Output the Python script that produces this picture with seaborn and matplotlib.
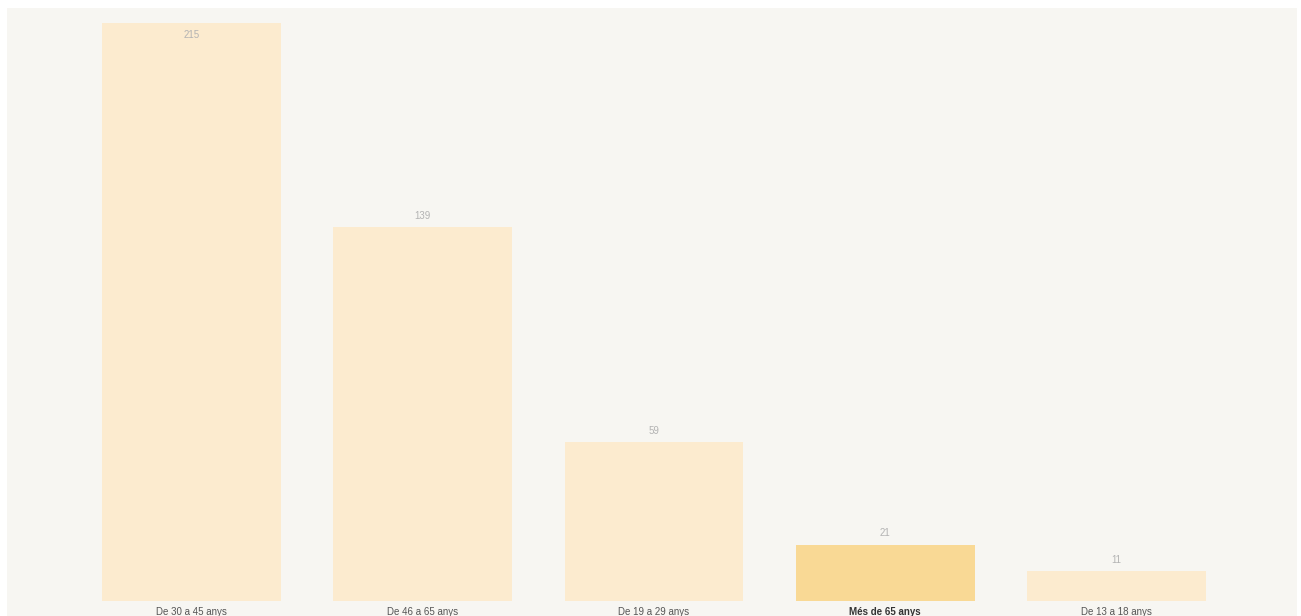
import pandas as pd
import matplotlib.pyplot as plt
import matplotlib.patches as mpatches
import seaborn as sb

# Data
groups = ['De 30 a 45 anys', 'De 46 a 65 anys', 'De 19 a 29 anys', 'Més de 65 anys', 'De 13 a 18 anys']
counts = [215, 139, 59, 21, 11]
highlight = 'Més de 65 anys'

df = pd.DataFrame({'group': groups, 'count': counts})
colors = {g: ('#f9d995' if g == highlight else '#fcebcf') for g in groups}

plt.rcParams['font.family'] = ['Liberation Sans', 'DejaVu Sans']

fig = plt.figure(figsize=(13.01, 6.16), dpi=100, facecolor='white')
# light panel behind the chart
fig.patches.append(mpatches.Rectangle((7 / 1301, 0), 1290 / 1301, 608 / 616,
                                      transform=fig.transFigure, facecolor='#f7f6f2',
                                      edgecolor='none', zorder=-10))
ax = fig.add_axes([76 / 1301, 15 / 616, 1156 / 1301, 578 / 616])
ax.set_facecolor('none')

sb.barplot(data=df, x='group', y='count', hue='group', palette=colors,
           dodge=False, legend=False, width=0.774, saturation=1, ax=ax)

ax.set_xlim(-0.5, len(groups) - 0.5)
ax.set_ylim(0, max(counts))

# value labels (the tallest one goes inside its bar)
for i, v in enumerate(counts):
    off = -9 if v == max(counts) else 8
    ax.annotate(str(v), (i, v), xytext=(0, off), textcoords='offset points',
                ha='center', va='center', fontsize=7, color='#b3b3b3')

ax.set_yticks([])
ax.set_xlabel('')
ax.set_ylabel('')
ax.tick_params(axis='x', length=0, pad=4.5, labelsize=7, labelcolor='#555555')
for lbl in ax.get_xticklabels():
    if lbl.get_text() == highlight:
        lbl.set_fontweight('bold')
        lbl.set_color('#333333')
for s in ax.spines.values():
    s.set_visible(False)

plt.savefig('out.png', dpi=100, facecolor='white')
